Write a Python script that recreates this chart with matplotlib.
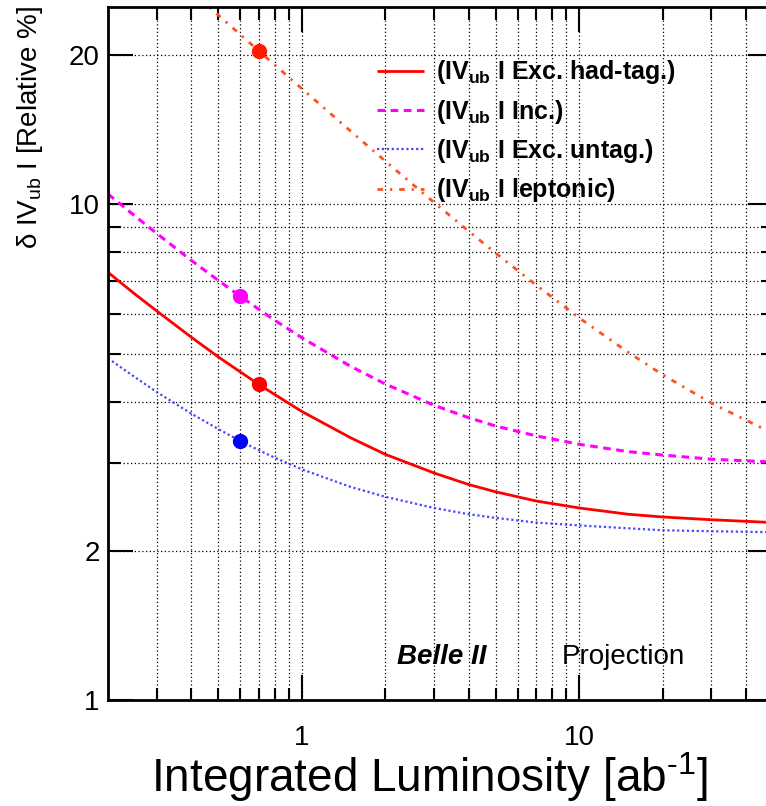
import numpy as np
import matplotlib
matplotlib.use("Agg")
import matplotlib.pyplot as plt
from matplotlib.ticker import FixedLocator, NullFormatter, FixedFormatter

plt.rcParams['font.family'] = ['Liberation Sans', 'DejaVu Sans']
plt.rcParams['mathtext.fontset'] = 'custom'
plt.rcParams['mathtext.rm'] = 'Liberation Sans'
plt.rcParams['mathtext.bf'] = 'Liberation Sans:bold'
plt.rcParams['mathtext.it'] = 'Liberation Sans:italic'

# luminosity points [ab^-1]
lumi = [0.2, 0.25, 0.3, 0.4, 0.5, 0.6, 0.7, 0.8, 1, 1.5, 2, 3, 4, 5, 7, 10, 15, 20, 30, 50]

# relative uncertainty on |Vub| [%]
had_tag = [7.29, 6.59, 6.09, 5.39, 4.92, 4.59, 4.33, 4.13, 3.82, 3.38, 3.13, 2.87,
           2.72, 2.63, 2.52, 2.44, 2.37, 2.34, 2.31, 2.28]
inclusive = [10.49, 9.47, 8.73, 7.70, 7.02, 6.52, 6.14, 5.83, 5.38, 4.71, 4.34, 3.93,
             3.71, 3.57, 3.41, 3.28, 3.17, 3.12, 3.06, 3.02]
untagged = [4.89, 4.48, 4.18, 3.78, 3.52, 3.33, 3.19, 3.08, 2.92, 2.69, 2.57, 2.44,
            2.37, 2.33, 2.28, 2.25, 2.22, 2.20, 2.19, 2.18]

lumi_lep = [0.4, 0.5, 0.6, 0.7, 0.8, 1, 1.5, 2, 3, 4, 5, 7, 10, 15, 20, 30, 50]
leptonic = [26.9, 24.07, 21.99, 20.38, 19.09, 17.11, 14.04, 12.22, 10.08, 8.82, 7.97,
            6.87, 5.90, 5.03, 4.53, 3.97, 3.45]

# current Belle measurements
pt_lumi = [0.7, 0.6, 0.6, 0.7]
pt_vals = [4.33, 6.52, 3.33, 20.38]
pt_cols = ['#ff0000', '#ff00ff', '#0000ff', '#ff1a00']

labels = [r'(IV$_{\mathbf{ub}}$ I Exc. had-tag.)',
          r'(IV$_{\mathbf{ub}}$ I Inc.)',
          r'(IV$_{\mathbf{ub}}$ I Exc. untag.)',
          r'(IV$_{\mathbf{ub}}$ I leptonic)']

fig = plt.figure(figsize=(7.66, 8.06), dpi=100)
ax = fig.add_axes([108/766, 106/806, 665/766, 693/806])
ax.set_xscale('log')
ax.set_yscale('log')

l1, = ax.plot(lumi, had_tag, color='#ff0000', lw=2, solid_capstyle='butt')
l2, = ax.plot(lumi, inclusive, color='#ff00ff', lw=2.2, linestyle=(0, (2.5, 1.8)))
l3, = ax.plot(lumi, untagged, color='#4646ff', lw=1.6, linestyle=(0, (1, 1.2)))
l4, = ax.plot(lumi_lep, leptonic, color='#ff5020', lw=2, linestyle=(0, (2, 2.5, 0.8, 2.5)))
for xv, yv, c in zip(pt_lumi, pt_vals, pt_cols):
    ax.plot(xv, yv, 'o', color=c, markersize=10, zorder=5)

ax.set_xlim(0.2, 50)
ax.set_ylim(1, 25)

ax.xaxis.set_major_locator(FixedLocator([1, 10]))
ax.xaxis.set_major_formatter(FixedFormatter(['1', '10']))
ax.xaxis.set_minor_locator(FixedLocator([0.3, 0.4, 0.5, 0.6, 0.7, 0.8, 0.9,
                                         2, 3, 4, 5, 6, 7, 8, 9, 20, 30, 40]))
ax.xaxis.set_minor_formatter(NullFormatter())
ax.yaxis.set_major_locator(FixedLocator([1, 2, 10, 20]))
ax.yaxis.set_major_formatter(FixedFormatter(['1', '2', '10', '20']))
ax.yaxis.set_minor_locator(FixedLocator([3, 4, 5, 6, 7, 8, 9]))
ax.yaxis.set_minor_formatter(NullFormatter())

ax.grid(which='both', color='black', linestyle=(0, (1, 2)), linewidth=0.9)
ax.tick_params(which='both', direction='in', top=True, right=True, width=1.5,
               labelsize=20)
ax.tick_params(which='major', length=18)
ax.tick_params(which='minor', length=9)
ax.tick_params(axis='x', pad=18)
ax.tick_params(axis='y', pad=6)
for s in ax.spines.values():
    s.set_linewidth(2)

leg = ax.legend([l1, l2, l3, l4], labels, loc='upper left',
                bbox_to_anchor=(354/766, 1 - 36/806), bbox_transform=fig.transFigure,
                frameon=False, prop={'weight': 'bold', 'size': 18},
                handlelength=1.9, handletextpad=0.5, labelspacing=0.45)

fig.text(397/766, 1 - 664/806, 'Belle II', fontsize=20, fontweight='bold',
         fontstyle='italic', va='baseline')
fig.text(562/766, 1 - 664/806, 'Projection', fontsize=20, va='baseline')

fig.text(30/766, 1 - 6/806, r'δ IV$_{\rm ub}$ I [Relative %]', rotation=90,
         ha='center', va='top', fontsize=20)
fig.text(429/766, 1 - 777/806, r'Integrated Luminosity [ab$^{\text{-1}}$]',
         ha='center', va='center', fontsize=33)

fig.savefig('out.png', dpi=100)
